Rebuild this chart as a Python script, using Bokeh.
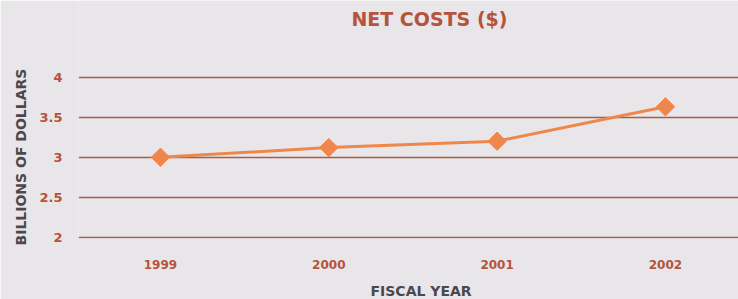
from bokeh.plotting import figure
from bokeh.models import Range1d, LinearAxis, Label, FixedTicker, Title
from bokeh.embed import file_html
from bokeh.resources import INLINE
import numpy as np

# ---- data ----
years = ["1999", "2000", "2001", "2002"]
net_costs = [3.0, 3.12, 3.2, 3.63]
y_ticks = [2, 2.5, 3, 3.5, 4]
y_tick_labels = ["2", "2.5", "3", "3.5", "4"]

title_text = "NET COSTS ($)"
x_label_text = "FISCAL YEAR"
y_label_text = "BILLIONS OF DOLLARS"

BG = "#e8e6e9"
RUST = "#b5533c"
GRID = "#a65c4c"
ORANGE = "#f0874a"
DARK = "#4a484c"
FONT = "DejaVu Sans"

xs = list(range(len(years)))

p = figure(width=738, height=299, output_backend="svg", toolbar_location=None,
           x_range=Range1d(-0.487, 3.434), y_range=Range1d(1.984, 4.959),
           x_axis_location=None, min_border_left=78, min_border_right=0,
           min_border_top=0, min_border_bottom=61,
           background_fill_color=BG, border_fill_color=BG, outline_line_color=None)

# y axis
p.yaxis.ticker = FixedTicker(ticks=y_ticks)
p.yaxis.major_label_overrides = {t: l for t, l in zip(y_ticks, y_tick_labels)}
p.yaxis.axis_line_color = None
p.yaxis.major_tick_line_color = None
p.yaxis.minor_tick_line_color = None
p.yaxis.major_label_standoff = 10
p.yaxis.major_label_text_color = RUST
p.yaxis.major_label_text_font = FONT
p.yaxis.major_label_text_font_style = "bold"
p.yaxis.major_label_text_font_size = "13px"

p.ygrid.ticker = FixedTicker(ticks=y_ticks)
p.ygrid.grid_line_color = GRID
p.ygrid.grid_line_width = 1.5
p.xgrid.visible = False

# x axis with category labels
xaxis = LinearAxis(ticker=FixedTicker(ticks=xs),
                   major_label_overrides={i: y for i, y in zip(xs, years)})
xaxis.axis_line_color = None
xaxis.major_tick_line_color = None
xaxis.minor_tick_line_color = None
xaxis.major_label_standoff = 15
xaxis.major_label_text_color = RUST
xaxis.major_label_text_font = FONT
xaxis.major_label_text_font_style = "bold"
xaxis.major_label_text_font_size = "12px"
p.add_layout(xaxis, "below")

# series
p.line(xs, net_costs, line_color=ORANGE, line_width=3)
p.scatter(xs, net_costs, marker="square", size=13, angle=np.pi / 4,
          fill_color=ORANGE, line_color=ORANGE)

# title inside the top of the frame
p.add_layout(Label(x=1.598, y=4.734, text=title_text, text_align="center",
                   text_baseline="middle", text_color=RUST, text_font=FONT,
                   text_font_style="bold", text_font_size="19px"))

# spacer between the year labels and the x-axis title
p.add_layout(Title(text=" ", standoff=0, text_font_size="7px"), "below")

# axis titles
p.add_layout(Title(text=x_label_text, align="left", offset=292, standoff=0,
                   text_color=DARK, text_font=FONT, text_font_style="bold",
                   text_font_size="14px"), "below")
p.add_layout(Title(text=y_label_text, align="left", offset=-7, standoff=15,
                   text_color=DARK, text_font=FONT, text_font_style="bold",
                   text_font_size="14px"), "left")

open("out.html", "w").write(file_html(p, INLINE))
